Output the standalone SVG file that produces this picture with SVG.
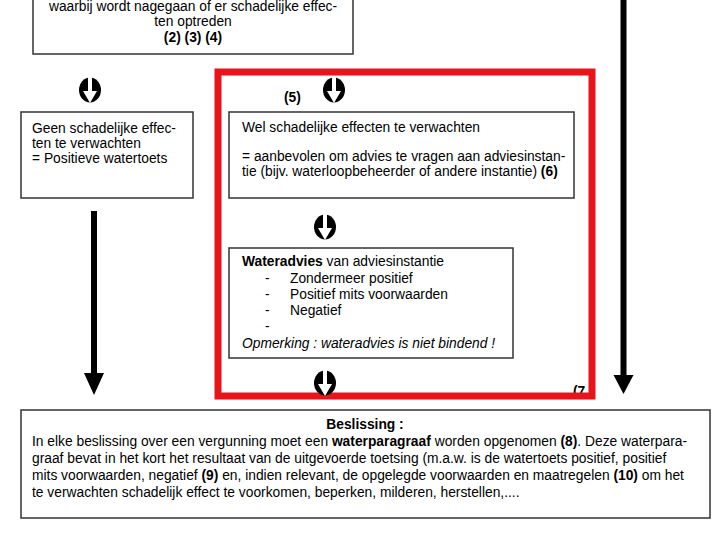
<svg xmlns="http://www.w3.org/2000/svg" width="720" height="540" viewBox="0 0 720 540">
<style>
.box{fill:#fff;stroke:#333;stroke-width:1.5}
.t{font-family:"Liberation Sans",Arial,sans-serif;font-size:13.8px;fill:#000}
.b{font-weight:bold}
.i{font-style:italic}
.shaft{stroke:#000;stroke-width:6}
</style>
<defs>
<symbol id="dn" viewBox="-12 -13 24 26" overflow="visible">
<ellipse cx="0" cy="0" rx="11" ry="12.5" fill="#000"/>
<rect x="-2" y="-13" width="4" height="14" fill="#fff"/>
<polygon points="-7,1 7,1 0,13" fill="#fff"/>
</symbol>
</defs>
<rect width="720" height="540" fill="#fff"/>

<g id="top-box">
<rect class="box" x="33" y="-5" width="320" height="59"/>
<text class="t" x="193" y="11" text-anchor="middle">waarbij wordt nagegaan of er schadelijke effec-</text>
<text class="t" x="193" y="26" text-anchor="middle">ten optreden</text>
<text class="t b" x="193" y="42" text-anchor="middle">(2) (3) (4)</text>
</g>

<g id="geen-box">
<rect class="box" x="21" y="112" width="172" height="86"/>
<text class="t" x="32" y="133">Geen schadelijke effec-</text>
<text class="t" x="32" y="148">ten te verwachten</text>
<text class="t" x="32" y="163">= Positieve watertoets</text>
</g>

<g id="label-7">
<text class="t b" x="573" y="396">(7</text>
</g>

<g id="red-frame">
<rect x="218" y="72" width="374" height="324" fill="none" stroke="#e8141a" stroke-width="7"/>
<text class="t b" x="284" y="102">(5)</text>
</g>

<g id="wel-box">
<rect class="box" x="229" y="112" width="345" height="86"/>
<text class="t" x="242" y="132">Wel schadelijke effecten te verwachten</text>
<text class="t" x="242" y="161">= aanbevolen om advies te vragen aan adviesinstan-</text>
<text class="t" x="242" y="176">tie (bijv. waterloopbeheerder of andere instantie) <tspan class="b">(6)</tspan></text>
</g>

<g id="wateradvies-box">
<rect class="box" x="229" y="248" width="284" height="110"/>
<text class="t" x="242" y="266"><tspan class="b">Wateradvies</tspan> van adviesinstantie</text>
<text class="t" x="265" y="283">-</text><text class="t" x="290" y="283">Zondermeer positief</text>
<text class="t" x="265" y="299">-</text><text class="t" x="290" y="299">Positief mits voorwaarden</text>
<text class="t" x="265" y="315">-</text><text class="t" x="290" y="315">Negatief</text>
<text class="t" x="265" y="331">-</text>
<text class="t i" x="242" y="348">Opmerking : wateradvies is niet bindend !</text>
</g>

<g id="connectors">
<use href="#dn" x="78" y="77" width="24" height="26"/>
<use href="#dn" x="322" y="77" width="24" height="26"/>
<use href="#dn" x="313" y="214" width="24" height="26"/>
<use href="#dn" x="313" y="370" width="24" height="26"/>
<line class="shaft" x1="94" y1="211" x2="94" y2="375"/>
<polygon points="84,373 104,373 94,395"/>
<line class="shaft" x1="623.5" y1="0" x2="623.5" y2="377"/>
<polygon points="613.5,375 633.5,375 623.5,394"/>
</g>

<g id="beslissing-box">
<rect class="box" x="21" y="410" width="689" height="108"/>
<text class="t b" x="365" y="429" text-anchor="middle">Beslissing :</text>
<text class="t" x="32" y="446">In elke beslissing over een vergunning moet een <tspan class="b">waterparagraaf</tspan> worden opgenomen <tspan class="b">(8)</tspan>. Deze waterpara-</text>
<text class="t" x="32" y="463">graaf bevat in het kort het resultaat van de uitgevoerde toetsing (m.a.w. is de watertoets positief, positief</text>
<text class="t" x="32" y="480">mits voorwaarden, negatief <tspan class="b">(9)</tspan> en, indien relevant, de opgelegde voorwaarden en maatregelen <tspan class="b">(10)</tspan> om het</text>
<text class="t" x="32" y="497">te verwachten schadelijk effect te voorkomen, beperken, milderen, herstellen,....</text>
</g>
</svg>
